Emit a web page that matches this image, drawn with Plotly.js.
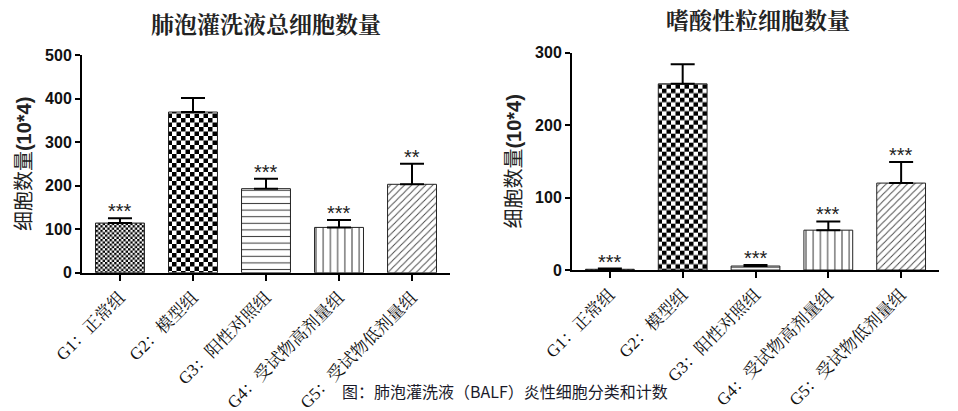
<!DOCTYPE html>
<html>
<head>
<meta charset="utf-8">
<script src="https://cdn.plot.ly/plotly-3.0.1.min.js"></script>
<style>
  html, body { margin: 0; padding: 0; background: #fff; }
  #chart { width: 958px; height: 411px; }
</style>
</head>
<body>
<div id="chart"></div>
<script>
const groups = ['G1：正常组', 'G2：模型组', 'G3：阳性对照组', 'G4：受试物高剂量组', 'G5：受试物低剂量组'];

// total cells in BALF (10*4)
const totalMean = [114, 369, 193, 104, 203];
const totalErr = [11, 32, 23, 17, 47];
const totalStars = ['***', '', '***', '***', '**'];

// eosinophils (10*4)
const eosMean = [1, 257, 5.5, 55, 120];
const eosErr = [1, 27, 1.5, 12, 29];
const eosStars = ['***', '', '***', '***', '***'];

const patShape = ['.', '.', '-', '|', '/'];
const patSize = [4.6, 9, 6.6, 7.2, 5];
const patSolidity = [0.5, 0.5, 0.16, 0.15, 0.18];
const patColor = ['#000', '#000', '#444', '#444', '#444'];

const sansCJK = 'Liberation Sans, Arial, Noto Sans CJK SC, sans-serif';
const serifCJK = 'Liberation Serif, Noto Serif CJK SC, Noto Sans CJK SC, serif';

function barTrace(vals, errs, xa, ya) {
    return {
        type: 'bar',
        x: groups,
        y: vals,
        xaxis: xa,
        yaxis: ya,
        width: 0.67,
        marker: {
            color: '#fff',
            line: { color: '#222', width: 1 },
            pattern: {
                shape: patShape,
                size: patSize,
                solidity: patSolidity,
                fgcolor: patColor,
                bgcolor: '#fff',
                fillmode: 'replace'
            }
        },
        error_y: {
            type: 'data',
            symmetric: false,
            array: errs,
            arrayminus: errs.map(() => 0),
            color: '#000',
            thickness: 2,
            width: 12
        },
        hoverinfo: 'skip'
    };
}

function starNotes(vals, errs, stars, xa, ya) {
    return groups.map((g, i) => ({
        x: g, y: vals[i] + errs[i], xref: xa, yref: ya,
        text: stars[i], showarrow: false, yanchor: 'bottom', yshift: -6,
        font: { family: sansCJK, size: 20, color: '#222' }
    })).filter(a => a.text);
}

function xAxis(domain, anchor) {
    return {
        domain: domain, anchor: anchor,
        range: [-0.52, 4.52],
        showline: true, linecolor: '#000', linewidth: 2,
        ticks: 'outside', ticklen: 6, tickwidth: 2, tickcolor: '#000',
        tickangle: -45,
        tickfont: { family: serifCJK, size: 17, color: '#111' },
        showgrid: false, zeroline: false, fixedrange: true
    };
}

function yAxis(domain, anchor, maxV, dtick) {
    return {
        domain: domain, anchor: anchor,
        range: [0, maxV], dtick: dtick,
        showline: true, linecolor: '#000', linewidth: 2,
        ticks: 'outside', ticklen: 5, tickwidth: 2, tickcolor: '#000',
        tickfont: { family: sansCJK, size: 16, color: '#111', weight: 'bold' },
        showgrid: false, zeroline: false, fixedrange: true,
        title: {
            text: '<span style="font-family:Noto Sans CJK SC">细胞数量</span><b>(10*4)</b>',
            font: { family: sansCJK, size: 20, color: '#222' },
            standoff: 8
        }
    };
}

const layout = {
    width: 958, height: 411,
    margin: { l: 0, r: 0, t: 0, b: 0 },
    paper_bgcolor: '#fff', plot_bgcolor: '#fff',
    showlegend: false,
    xaxis: xAxis([82 / 958, 450 / 958], 'y'),
    yaxis: yAxis([(411 - 272.7) / 411, (411 - 55) / 411], 'x', 500, 100),
    xaxis2: xAxis([572 / 958, 939 / 958], 'y2'),
    yaxis2: yAxis([(411 - 270) / 411, (411 - 52.7) / 411], 'x2', 300, 100),
    annotations: [
        ...starNotes(totalMean, totalErr, totalStars, 'x', 'y'),
        ...starNotes(eosMean, eosErr, eosStars, 'x2', 'y2'),
        { text: '<b>肺泡灌洗液总细胞数量</b>', xref: 'paper', yref: 'paper', x: 266 / 958, y: 1 - 25 / 411,
          xanchor: 'center', yanchor: 'middle',
          showarrow: false, font: { family: serifCJK, size: 23, color: '#222' } },
        { text: '<b>嗜酸性粒细胞数量</b>', xref: 'paper', yref: 'paper', x: 758 / 958, y: 1 - 21 / 411,
          xanchor: 'center', yanchor: 'middle',
          showarrow: false, font: { family: serifCJK, size: 23, color: '#222' } },
        { text: '图：肺泡灌洗液（BALF）炎性细胞分类和计数', xref: 'paper', yref: 'paper', x: 505 / 958, y: 1 - 391 / 411,
          xanchor: 'center', yanchor: 'middle',
          showarrow: false, font: { family: 'Noto Sans CJK SC, sans-serif', size: 16, color: '#1a1a2a' } }
    ]
};

const data = [
    barTrace(totalMean, totalErr, 'x', 'y'),
    barTrace(eosMean, eosErr, 'x2', 'y2')
];

// plotly has no checkerboard pattern: turn the dot patterns into checkers
function checkerPatterns(gd) {
    const ns = 'http://www.w3.org/2000/svg';
    gd.querySelectorAll('pattern').forEach(p => {
        if (!p.querySelector('circle')) return;
        const s = parseFloat(p.getAttribute('width'));
        const c = s / 2;
        while (p.firstChild) p.removeChild(p.firstChild);
        [[0, 0, s, '#fff'], [0, 0, c, '#000'], [c, c, c, '#000']].forEach(([x, y, w, f]) => {
            const r = document.createElementNS(ns, 'rect');
            r.setAttribute('x', x); r.setAttribute('y', y);
            r.setAttribute('width', w); r.setAttribute('height', w);
            r.setAttribute('fill', f);
            p.appendChild(r);
        });
    });
}

Plotly.newPlot('chart', data, layout, { displayModeBar: false, staticPlot: true })
    .then(gd => checkerPatterns(gd));
</script>
</body>
</html>
